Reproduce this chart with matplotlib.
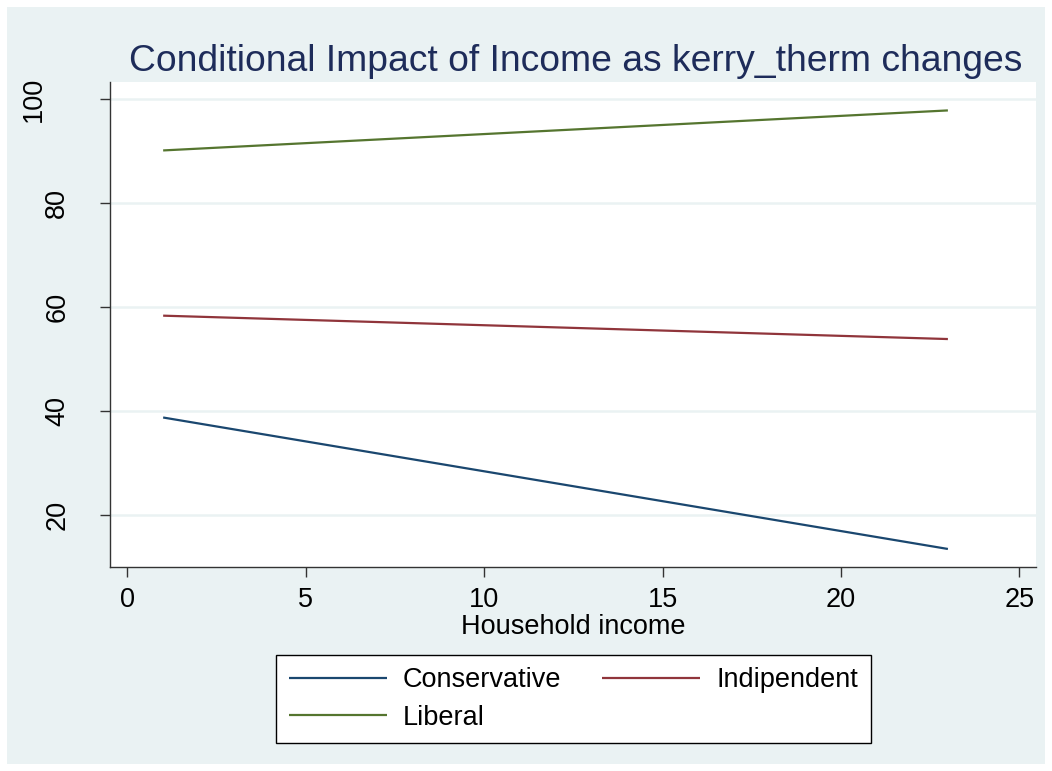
import matplotlib
matplotlib.use("Agg")
import matplotlib.pyplot as plt
from matplotlib.patches import Rectangle

plt.rcParams['font.family'] = ['Liberation Sans', 'DejaVu Sans']

income = [1, 23]
conservative = [38.7, 13.4]
indipendent = [58.3, 53.8]
liberal = [90.1, 97.8]
series_names = ["Conservative", "Indipendent", "Liberal"]
xticks = [0, 5, 10, 15, 20, 25]
yticks = [20, 40, 60, 80, 100]

W, H = 1052, 771
FS = 19.5
fig = plt.figure(figsize=(W / 100, H / 100), dpi=100)
fig.patch.set_facecolor('white')
bg = '#EAF2F3'
fig.patches.append(Rectangle((7 / W, 7 / H), (1045 - 7) / W, (764 - 7) / H,
                             transform=fig.transFigure, facecolor=bg,
                             edgecolor='none', zorder=-10))

ax = fig.add_axes([110 / W, (H - 567) / H, (1036 - 110) / W, (567 - 82) / H])
ax.set_facecolor('white')

colors = ['#1a476f', '#90353b', '#55752f']
handles = []
for ys, name, c in zip([conservative, indipendent, liberal], series_names, colors):
    h, = ax.plot(income, ys, color=c, lw=1.6, label=name, solid_capstyle='butt')
    handles.append(h)

ax.set_xlim(-0.49, 25.47)
ax.set_ylim(9.93, 103.27)
ax.set_xticks(xticks)
ax.set_yticks(yticks)
ax.yaxis.grid(True, color=bg, lw=1.8)
ax.set_axisbelow(True)
for s in ['top', 'right']:
    ax.spines[s].set_visible(False)
for s in ['left', 'bottom']:
    ax.spines[s].set_color('#333333')
    ax.spines[s].set_linewidth(1.0)
ax.tick_params(axis='both', direction='out', length=7.2, width=1.0,
               color='#333333', labelsize=FS)
ax.tick_params(axis='x', pad=7.5)
ax.tick_params(axis='y', pad=21.5)
plt.setp(ax.get_yticklabels(), rotation=90, va='center')
for t, v in zip(ax.yaxis.get_major_ticks(), yticks):
    if v >= 100:
        t.set_pad(38.5)
ax.set_xlabel("Household income", fontsize=FS, labelpad=0.5)

fig.text(576 / W, 1 - 71 / H, "Conditional Impact of Income as kerry_therm changes",
         fontsize=26.8, color='#1e2c5a', ha='center', va='baseline')

order = [0, 2, 1]
leg = fig.legend([handles[i] for i in order], [series_names[i] for i in order],
                 loc='center', bbox_to_anchor=(573.5 / W, 1 - 699 / H), ncol=2,
                 fontsize=FS, frameon=True, fancybox=False, handlelength=3.62,
                 handletextpad=0.59, columnspacing=1.51, labelspacing=0.42,
                 borderpad=0.47)
leg.get_frame().set_edgecolor('black')
leg.get_frame().set_facecolor('white')
leg.get_frame().set_alpha(1.0)
leg.get_frame().set_linewidth(1.0)

fig.savefig("out.png", dpi=100, facecolor='white')
